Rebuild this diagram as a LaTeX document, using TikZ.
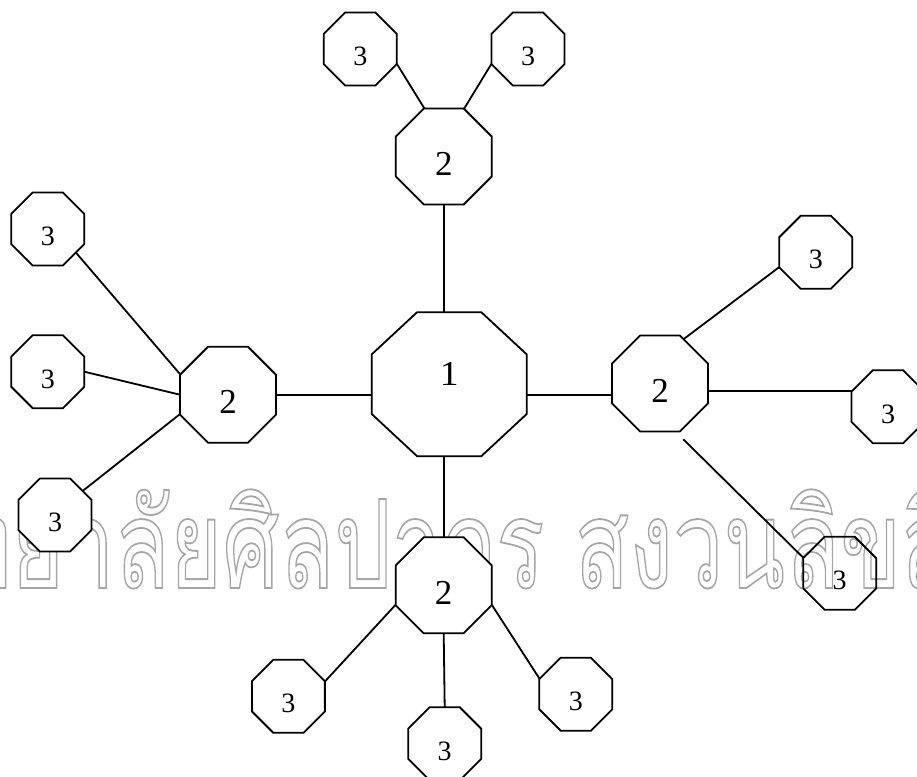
\documentclass[tikz,border=0pt]{standalone}
\usepackage{fontspec}
\setmainfont{Liberation Serif}
\newfontfamily\thaifont[Script=Thai]{Loma}
\usetikzlibrary{shapes.geometric}
\tikzset{
  oct/.style={regular polygon, regular polygon sides=8, draw, line width=1.8pt,
    fill=white, inner sep=0pt, outer sep=0pt},
  octthree/.style={oct, minimum size=79pt, font=\fontsize{28}{28}\selectfont,
    text height=33pt, text depth=0pt},
  octtwo/.style={oct, minimum size=104pt, font=\fontsize{35}{35}\selectfont,
    text height=38pt, text depth=0pt},
  octone/.style={oct, minimum size=155.9pt, font=\fontsize{35}{35}\selectfont,
    text height=23.7pt, text depth=22pt},
  link/.style={line width=1.8pt},
  wmark/.style={anchor=base west, inner sep=0pt, text=black!35,
    font=\thaifont\fontsize{123}{123}\selectfont, xscale=0.73, transform shape}
}
\begin{document}
\begin{tikzpicture}[x=1pt,y=-1pt]
\useasboundingbox (0,0) rectangle (917,776);
\clip (0,0) rectangle (917,776);
% watermark
\node[wmark] (wm) at (-267,588) {\special{pdf:literal direct 1 Tr 1.8 w}มหาวิทยาลัยศิลปากร สงวนลิขสิทธิ์\special{pdf:literal direct 0 Tr}};
% centre
\begin{scope}[shift={(449.2,384.2)}, xscale=1.076]
  \node[octone, transform shape] (c1) at (0,0) {1};
\end{scope}
% level 2
\node[octtwo] (t2) at (443.8,156.5) {2};
\node[octtwo] (l2) at (228,394.7) {2};
\node[octtwo] (r2) at (660,383.5) {2};
\node[octtwo] (b2) at (443.7,585.3) {2};
% level 3
\node[octthree] (tl3) at (360.3,49) {3};
\node[octthree] (tr3) at (528,49) {3};
\node[octthree] (la3) at (47.8,229) {3};
\node[octthree] (lb3) at (47.8,371.7) {3};
\node[octthree] (lc3) at (55,515) {3};
\node[octthree] (ra3) at (815.8,252.3) {3};
\node[octthree] (rb3) at (888,406.7) {3};
\node[octthree, fill=none] (rc3) at (839.7,573.3) {3};
\node[octthree] (ba3) at (288.4,696.3) {3};
\node[octthree] (bm3) at (444.7,743.8) {3};
\node[octthree] (bc3) at (575.8,694.2) {3};
\coordinate (rfree) at (683.3,439.3);
% connectors
\draw[link] (t2.south) -- (t2.south |- c1.north);
\draw[link] (l2.east) -- (l2.east -| c1.west);
\draw[link] (c1.east |- l2.east) -- (r2.west |- l2.east);
\draw[link] (b2.north) -- (b2.north |- c1.south);
\draw[link] (tl3.-22.5) -- (t2.112.5);
\draw[link] (tr3.202.5) -- (t2.67.5);
\draw[link] (la3.-40) -- (l2.157.5);
\draw[link] (lb3.east) -- (l2.west);
\draw[link] (lc3.41) -- (l2.202.5);
\draw[link] (r2.62) -- (ra3.202.5);
\draw[link] (rb3.157.5) -- (rb3.157.5 -| r2.east);
\draw[link] (rfree) -- (rc3.157.5);
\draw[link] (b2.202.5) -- (ba3.22.5);
\draw[link] (b2.-22.5) -- (bc3.157.5);
\draw[link] (b2.south) -- (bm3.north);
\end{tikzpicture}
\end{document}
